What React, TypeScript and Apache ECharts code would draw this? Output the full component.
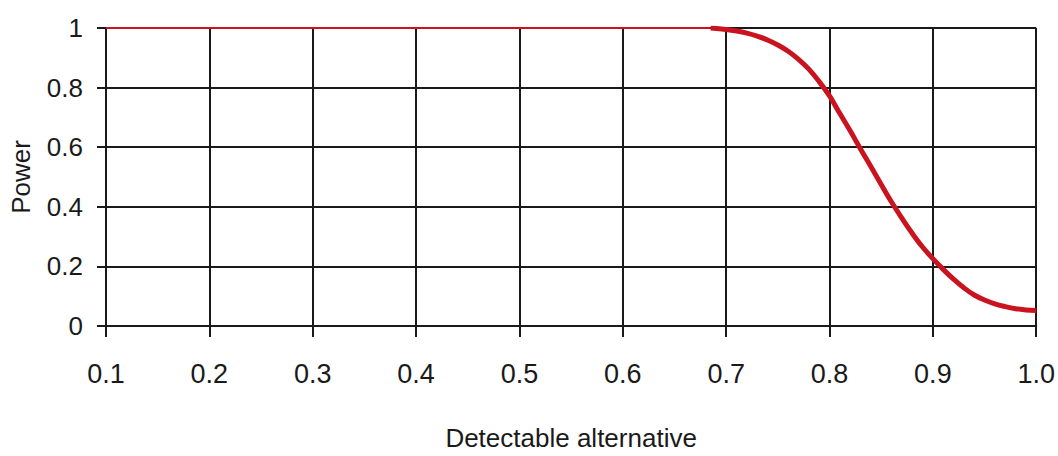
import React, { useEffect, useRef } from "react";
import * as echarts from "echarts";

const xTicks = [0.1, 0.2, 0.3, 0.4, 0.5, 0.6, 0.7, 0.8, 0.9, 1.0];
const yTicks = [0, 0.2, 0.4, 0.6, 0.8, 1];

// flat part of the power curve (power = 1)
const flatX = [0.1, 0.685];
const flatPower = [1, 1];

// falling part of the power curve
const curveX = [0.685, 0.7, 0.71, 0.72, 0.73, 0.74, 0.75, 0.76, 0.77, 0.78, 0.79, 0.8, 0.81, 0.82, 0.83, 0.84, 0.85, 0.86, 0.87, 0.88, 0.89, 0.9, 0.91, 0.92, 0.93, 0.94, 0.95, 0.96, 0.97, 0.98, 0.99, 1.0];
const curvePower = [1.0, 0.995, 0.99, 0.983, 0.973, 0.96, 0.943, 0.922, 0.895, 0.862, 0.82, 0.772, 0.713, 0.655, 0.594, 0.535, 0.475, 0.416, 0.362, 0.311, 0.265, 0.226, 0.19, 0.157, 0.128, 0.104, 0.087, 0.074, 0.065, 0.058, 0.054, 0.052];

const xTitle = "Detectable alternative";
const yTitle = "Power";

const LABEL_FONT = '"Liberation Sans", Arial, sans-serif';
const RED = "#c9141f";
const INK = "#1a1a1a";

export default function App() {
  const ref = useRef<HTMLDivElement>(null);

  useEffect(() => {
    if (!ref.current) return;
    const chart = echarts.init(ref.current, null, { renderer: "svg" });
    const flatData = flatX.map((x, i) => [x, flatPower[i]]);
    const curveData = curveX.map((x, i) => [x, curvePower[i]]);
    chart.setOption({
      animation: false,
      backgroundColor: "#ffffff",
      grid: { left: 106, right: 20, top: 28, bottom: 127, containLabel: false },
      xAxis: {
        type: "value",
        min: xTicks[0],
        max: xTicks[xTicks.length - 1],
        interval: 0.1,
        name: xTitle,
        nameLocation: "middle",
        nameGap: 99,
        nameTextStyle: { fontFamily: LABEL_FONT, fontSize: 26, color: INK },
        axisLine: { show: true, lineStyle: { color: INK, width: 2 } },
        axisTick: { show: true, length: 11, lineStyle: { color: INK, width: 2 } },
        axisLabel: {
          margin: 34,
          fontFamily: LABEL_FONT,
          fontSize: 27,
          color: INK,
          formatter: (v: number) => v.toFixed(1),
        },
        splitLine: { show: true, lineStyle: { color: INK, width: 2 } },
      },
      yAxis: {
        type: "value",
        min: yTicks[0],
        max: yTicks[yTicks.length - 1],
        interval: 0.2,
        name: yTitle,
        nameLocation: "middle",
        nameGap: 72,
        nameTextStyle: { fontFamily: LABEL_FONT, fontSize: 26, color: INK },
        axisLine: { show: true, lineStyle: { color: INK, width: 2 } },
        axisTick: { show: true, length: 9, lineStyle: { color: INK, width: 2 } },
        axisLabel: {
          margin: 23,
          fontFamily: LABEL_FONT,
          fontSize: 26,
          color: INK,
          formatter: (v: number) => String(Math.round(v * 10) / 10),
        },
        splitLine: { show: true, lineStyle: { color: INK, width: 2 } },
      },
      series: [
        {
          type: "line",
          data: flatData,
          showSymbol: false,
          lineStyle: { color: RED, width: 2 },
          z: 3,
        },
        {
          type: "line",
          data: curveData,
          showSymbol: false,
          smooth: 0.4,
          lineStyle: { color: RED, width: 5 },
          z: 4,
        },
      ],
    });
    return () => chart.dispose();
  }, []);

  return (
    <div
      ref={ref}
      style={{ position: "absolute", left: 0, top: 0, width: 1058, height: 456, background: "#fff" }}
    />
  );
}
